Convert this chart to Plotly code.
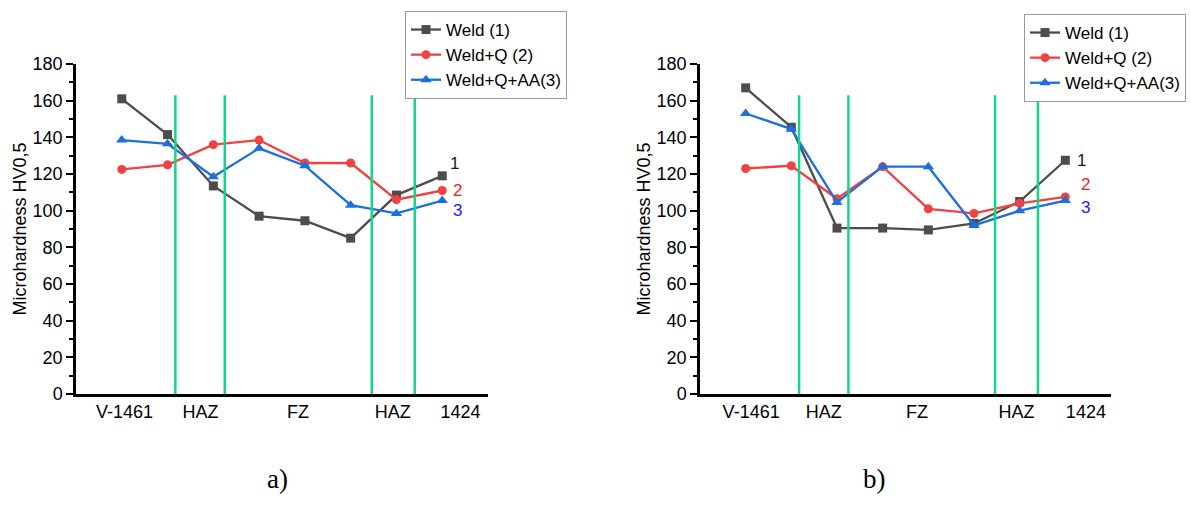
import plotly.graph_objects as go

# Measurement positions along the joint (1 = base metal V-1461 ... 8 = base metal 1424)
positions = [1, 2, 3, 4, 5, 6, 7, 8]

# Panel a) microhardness HV0,5
weld_a = [161, 141.5, 113.5, 97, 94.5, 85, 108.5, 119]
weld_q_a = [122.5, 125, 136, 138.5, 126, 126, 106, 111]
weld_q_aa_a = [138.5, 136.5, 118.5, 134, 124.5, 103, 98.5, 105.5]

# Panel b) microhardness HV0,5
weld_b = [167, 145.5, 90.5, 90.5, 89.5, 93, 105, 127.5]
weld_q_b = [123, 124.5, 106.5, 124, 101, 98.5, 104, 107.5]
weld_q_aa_b = [153, 144.5, 104.5, 124, 124, 92, 100, 105.5]

# Zone boundaries (base metal | HAZ | FZ | HAZ | base metal)
boundaries = [2.17, 3.25, 6.46, 7.40]
boundary_top = 163

# Zone labels along the x axis
zone_labels = ["V-1461", "HAZ", "FZ", "HAZ", "1424"]
zone_pos_a = [1.06, 2.72, 4.85, 6.92, 8.4]
zone_pos_b = [1.12, 2.71, 4.75, 6.93, 8.45]

series_names = ["Weld (1)", "Weld+Q (2)", "Weld+Q+AA(3)"]
colors = ["#4d4d4d", "#ef4242", "#1c6fdf"]
symbols = ["square", "circle", "triangle-up"]
marker_sizes = [9, 9, 10]
label_colors = ["#1a1a1a", "#ff1a1a", "#1a1aff"]

FONT = "Arial, Liberation Sans, sans-serif"
GREEN = "#14d68a"

fig = go.Figure()

panels = [
    ("x", "y", "legend", [weld_a, weld_q_a, weld_q_aa_a]),
    ("x2", "y2", "legend2", [weld_b, weld_q_b, weld_q_aa_b]),
]

for xa, ya, lg, data in panels:
    for name, vals, col, sym, ms in zip(series_names, data, colors, symbols, marker_sizes):
        fig.add_trace(go.Scatter(
            x=positions, y=vals, name=name, mode="lines+markers",
            line=dict(color=col, width=2.3),
            marker=dict(symbol=sym, size=ms, color=col),
            xaxis=xa, yaxis=ya, legend=lg, showlegend=True,
        ))
    for b in boundaries:
        fig.add_shape(type="line", xref=xa, yref=ya, x0=b, x1=b, y0=0, y1=boundary_top,
                      line=dict(color=GREEN, width=2.5))

# Series numbers next to the last points
label_shifts_a = [(12, 12), (15, 0), (15, -10)]
label_shifts_b = [(16, 0), (20, 12), (20, -7)]
for (xa, ya, _, data), shifts in zip(panels, [label_shifts_a, label_shifts_b]):
    for i, (vals, (dx, dy)) in enumerate(zip(data, shifts)):
        fig.add_annotation(x=positions[-1], y=vals[-1], xref=xa, yref=ya,
                           text=str(i + 1), showarrow=False, xshift=dx, yshift=dy,
                           font=dict(family=FONT, size=17, color=label_colors[i]))

# Panel captions
for txt, xc in [("a)", 265 / 1191), ("b)", 888 / 1191)]:
    fig.add_annotation(x=xc, y=1 - 496 / 509, xref="paper", yref="paper",
                       text=txt, showarrow=False,
                       font=dict(family="Liberation Serif, Times New Roman, serif", size=27, color="black"))

yaxis_style = dict(
    range=[0, 180], dtick=20, tick0=0, showline=True, linecolor="black", linewidth=2.5,
    ticks="outside", ticklen=7, tickwidth=2, tickcolor="black",
    minor=dict(dtick=10, ticks="outside", ticklen=4, tickwidth=1.5, tickcolor="black"),
    showgrid=False, zeroline=False, automargin=False,
    tickfont=dict(family=FONT, size=18, color="black"),
    title=dict(text="Microhardness HV0,5", font=dict(family=FONT, size=18, color="black"), standoff=2),
)
xaxis_style = dict(
    range=[0, 9], showline=True, linecolor="black", linewidth=2.5,
    ticks="", showgrid=False, zeroline=False, automargin=False,
    tickfont=dict(family=FONT, size=18, color="black"),
)

legend_style = dict(
    bgcolor="white", bordercolor="#999999", borderwidth=1,
    font=dict(family=FONT, size=17, color="black"),
    xanchor="left", yanchor="top", tracegroupgap=0, itemwidth=30,
)

fig.update_layout(
    width=1191, height=509,
    margin=dict(l=0, r=0, t=0, b=0, autoexpand=False),
    paper_bgcolor="white", plot_bgcolor="white",
    xaxis=dict(domain=[76 / 1191, 488 / 1191], anchor="y",
               tickvals=zone_pos_a, ticktext=zone_labels, **xaxis_style),
    yaxis=dict(domain=[1 - 394 / 509, 1 - 64 / 509], anchor="x", **yaxis_style),
    xaxis2=dict(domain=[700 / 1191, 1111 / 1191], anchor="y2",
                tickvals=zone_pos_b, ticktext=zone_labels, **xaxis_style),
    yaxis2=dict(domain=[1 - 394 / 509, 1 - 64 / 509], anchor="x2", **yaxis_style),
    legend=dict(x=405 / 1191, y=1 - 11 / 509, **legend_style),
    legend2=dict(x=1024 / 1191, y=1 - 14 / 509, **legend_style),
)

fig.write_html("out.html")
